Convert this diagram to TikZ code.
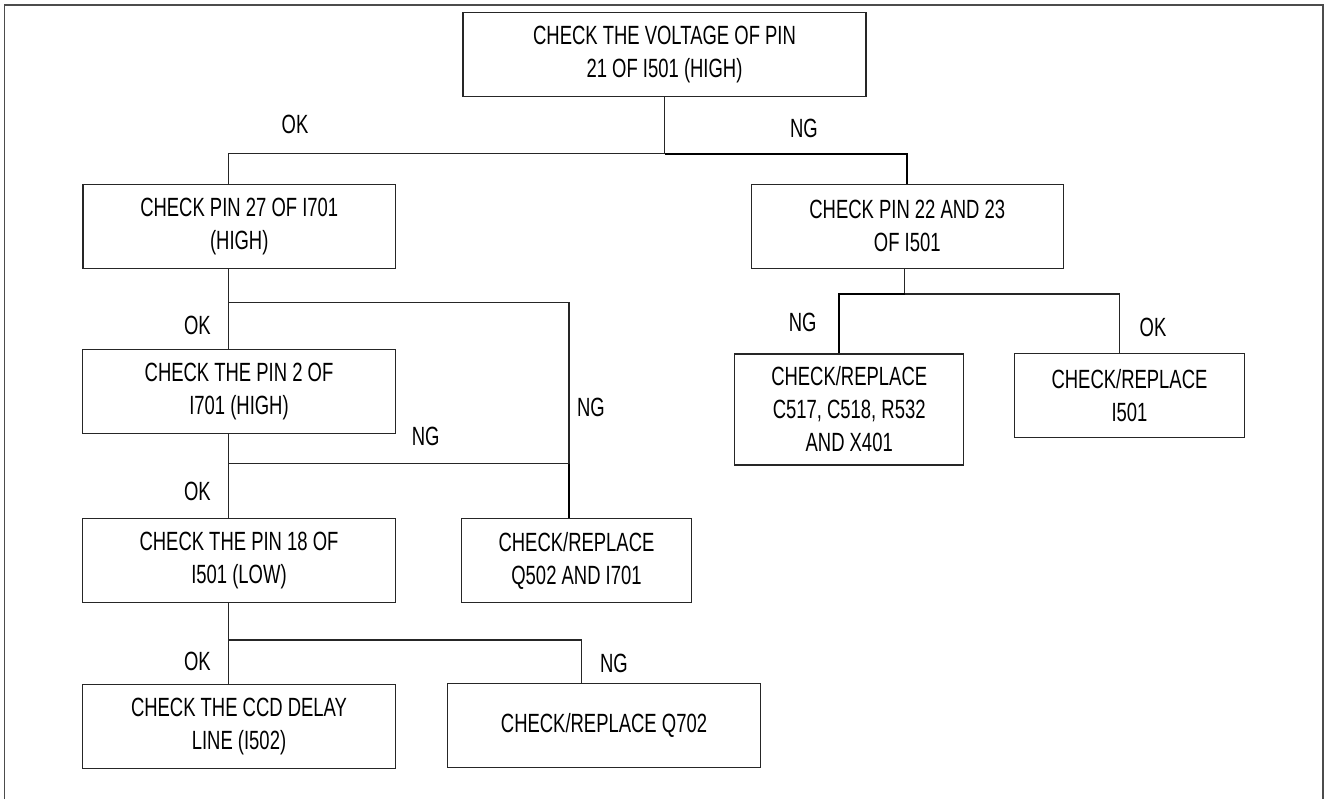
\documentclass[tikz,border=0pt]{standalone}
\usepackage{fontspec}
\setmainfont{Liberation Sans}[FakeStretch=0.70]

\begin{document}
\begin{tikzpicture}[font=\fontsize{15}{18.8}\selectfont,
  box/.style={draw=black!85,line width=0.6pt,minimum width=6.25cm,
    minimum height=1.68cm,align=center,inner sep=0pt},
  wire/.style={draw=black!85,line width=0.6pt},
  heavy/.style={draw=black,line width=1pt},
  answer/.style={inner sep=1pt}]
\useasboundingbox (0,0) rectangle (26.54,15.98);
\draw[black!70,line width=0.8pt] (0.09,0) -- (0.09,15.88) -- (26.46,15.88) -- (26.46,0);

\node[box,minimum width=8.06cm] (volt) at (13.29,14.89) {CHECK THE VOLTAGE OF PIN\\21 OF I501 (HIGH)};
\node[box] (pin27) at (4.785,11.45) {CHECK PIN 27 OF I701\\(HIGH)};
\node[box] (pin22) at (18.146,11.454) {CHECK PIN 22 AND 23\\OF I501};
\node[box,minimum width=4.59cm,minimum height=2.22cm] (xtal) at (16.984,7.79)
  {CHECK/REPLACE\\C517, C518, R532\\AND X401};
\node[box,minimum width=4.6cm] (ic501) at (22.59,8.066) {CHECK/REPLACE\\I501};
\node[box] (pin2) at (4.78,8.142) {CHECK THE PIN 2 OF\\I701 (HIGH)};
\node[box] (pin18) at (4.78,4.762) {CHECK THE PIN 18 OF\\I501 (LOW)};
\node[box,minimum width=4.6cm] (q502) at (11.53,4.762) {CHECK/REPLACE\\Q502 AND I701};
\node[box] (ccd) at (4.78,1.454) {CHECK THE CCD DELAY\\LINE (I502)};
\node[box,minimum width=6.27cm] (q702) at (12.08,1.462) {CHECK/REPLACE Q702};

\coordinate (okcol) at (4.57,0);
\coordinate (ngcol) at (11.38,0);
\coordinate (q702col) at (11.634,0);
\coordinate (xtalcol) at (16.776,0);
\coordinate (iccol) at (22.384,0);
\coordinate (j0) at (13.29,12.902);
\coordinate (j1) at (4.57,9.926);
\coordinate (j2) at (4.57,6.706);
\coordinate (j3) at (4.57,3.18);
\coordinate (j4) at (18.09,10.1);

\draw[wire] (volt.south) -- (j0);
\draw[wire] (pin27.north -| okcol) |- (j0);
\draw[heavy] (j0) -| (pin22.north);
\draw[wire] (pin27.south -| okcol) -- (pin2.north -| okcol);
\draw[wire] (j1) -| (j2 -| ngcol);
\draw[heavy] (j2 -| ngcol) -- (q502.north -| ngcol);
\draw[wire] (pin2.south -| okcol) -- (pin18.north -| okcol);
\draw[wire] (j2) -- (j2 -| ngcol);
\draw[wire] (pin18.south -| okcol) -- (ccd.north -| okcol);
\draw[wire] (j3) -| (q702.north -| q702col);
\draw[wire] (pin22.south -| j4) -- (j4);
\draw[heavy] (xtal.north -| xtalcol) |- (j4);
\draw[wire] (j4) -| (ic501.north -| iccol);

\node[answer] (ok1) at (5.9,13.5) {OK};
\node[answer] (ng1) at (16.08,13.42) {NG};
\node[answer] (ok2) at (3.948,9.48) {OK};
\node[answer] (ng2) at (11.82,7.826) {NG};
\node[answer] (ng3) at (8.512,7.246) {NG};
\node[answer] (ok3) at (3.948,6.146) {OK};
\node[answer] (ok4) at (3.948,2.76) {OK};
\node[answer] (ng4) at (12.278,2.714) {NG};
\node[answer] (ng5) at (16.052,9.526) {NG};
\node[answer] (ok5) at (23.06,9.426) {OK};
\end{tikzpicture}
\end{document}
